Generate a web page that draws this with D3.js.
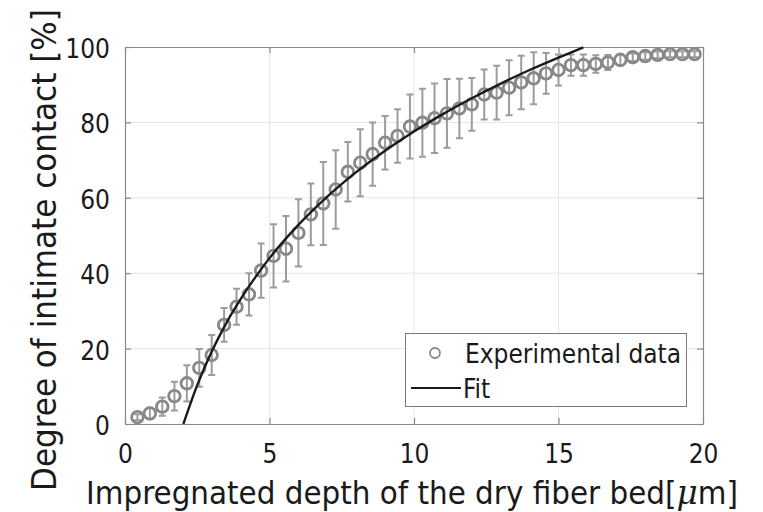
<!DOCTYPE html>
<html>
<head>
<meta charset="utf-8">
<script src="https://cdn.jsdelivr.net/npm/d3@7"></script>
<style>
  html, body { margin: 0; padding: 0; background: #fff; }
  svg { display: block; }
  text { font-family: "DejaVu Sans Condensed", "DejaVu Sans", sans-serif; fill: #1a1a1a; }
</style>
</head>
<body>
<svg id="chart" width="763" height="512"></svg>
<script>
// ---- data ----
const depth = [0.43, 0.86, 1.29, 1.71, 2.14, 2.57, 3.00, 3.43, 3.86, 4.29,
               4.71, 5.14, 5.57, 6.00, 6.43, 6.86, 7.29, 7.71, 8.14, 8.57,
               9.00, 9.43, 9.86, 10.29, 10.71, 11.14, 11.57, 12.00, 12.43, 12.86,
               13.29, 13.71, 14.14, 14.57, 15.00, 15.43, 15.86, 16.29, 16.71, 17.14,
               17.57, 18.00, 18.43, 18.86, 19.29, 19.71];
const contact = [1.8, 2.8, 4.6, 7.4, 10.8, 14.9, 18.3, 26.3, 31.1, 34.4,
                 40.7, 44.6, 46.5, 50.7, 55.6, 58.5, 62.2, 66.9, 69.3, 71.6,
                 74.6, 76.4, 78.9, 79.9, 81.1, 82.4, 83.7, 84.8, 87.4, 87.9,
                 89.2, 90.6, 91.7, 93.0, 93.9, 95.2, 95.2, 95.5, 95.9, 96.6,
                 97.3, 97.6, 97.9, 98.1, 98.1, 98.1];
const contactErr = [0.8, 1.5, 2.4, 3.8, 4.8, 5.0, 5.3, 4.5, 4.8, 5.6,
                    7.2, 8.4, 8.7, 8.9, 8.2, 11.0, 10.4, 7.9, 8.9, 8.4,
                    7.1, 7.1, 8.5, 9.0, 9.2, 9.1, 7.9, 7.0, 6.6, 7.1,
                    7.3, 7.1, 6.9, 5.4, 4.1, 2.8, 2.8, 2.3, 2.0, 1.5,
                    1.0, 1.0, 0.9, 0.8, 0.8, 0.8];
const fitX = [2.02, 2.5, 3, 3.5, 4, 5, 6, 7, 8, 9, 10, 11, 12, 13, 14, 15, 15.86];
const fitY = [0, 10.3, 19.2, 26.7, 33.1, 44.0, 52.8, 60.3, 66.8, 72.5, 77.6, 82.2, 86.4, 90.3, 93.9, 97.2, 99.9];
const xTicks = [0, 5, 10, 15, 20];
const yTicks = [0, 20, 40, 60, 80, 100];
const legendLabels = ["Experimental data", "Fit"];
const xLabel = "Impregnated depth of the dry fiber bed[";
const xLabelUnit = "\u03BC";
const xLabelEnd = "m]";
const yLabel = "Degree of intimate contact [%]";

// ---- layout ----
const svg = d3.select("#chart");
const L = 125, R = 703, T = 47, B = 424;
const x = d3.scaleLinear().domain([0, 20]).range([L, R]);
const y = d3.scaleLinear().domain([0, 100]).range([B, T]);

const axisCol = "#8a8a8a", gridCol = "#e5e5e5", dataCol = "#888888", errCol = "#9c9c9c";

// grid
const grid = svg.append("g");
grid.selectAll("line.gx").data(xTicks.slice(1, -1)).join("line")
  .attr("x1", d => x(d)).attr("x2", d => x(d)).attr("y1", T).attr("y2", B)
  .attr("stroke", gridCol).attr("stroke-width", 1);
grid.selectAll("line.gy").data(yTicks.slice(1, -1)).join("line")
  .attr("y1", d => y(d)).attr("y2", d => y(d)).attr("x1", L).attr("x2", R)
  .attr("stroke", gridCol).attr("stroke-width", 1);

// axes (inward ticks, box)
const tickLen = 6;
const xAxis = svg.append("g").attr("transform", `translate(0,${B})`)
  .call(d3.axisBottom(x).tickValues(xTicks).tickSizeInner(-tickLen).tickSizeOuter(0).tickPadding(21));
const yAxis = svg.append("g").attr("transform", `translate(${L},0)`)
  .call(d3.axisLeft(y).tickValues(yTicks).tickSizeInner(-tickLen).tickSizeOuter(0).tickPadding(15));
const xTop = svg.append("g").attr("transform", `translate(0,${T})`)
  .call(d3.axisTop(x).tickValues(xTicks).tickSizeInner(-tickLen).tickSizeOuter(0).tickFormat(""));
const yRight = svg.append("g").attr("transform", `translate(${R},0)`)
  .call(d3.axisRight(y).tickValues(yTicks).tickSizeInner(-tickLen).tickSizeOuter(0).tickFormat(""));
[xAxis, yAxis, xTop, yRight].forEach(g => {
  g.selectAll("path.domain").attr("stroke", axisCol).attr("stroke-width", 1.2);
  g.selectAll(".tick line").attr("stroke", axisCol).attr("stroke-width", 1.2);
  g.selectAll(".tick text").attr("font-size", 26).attr("fill", "#1a1a1a")
    .attr("font-family", "'DejaVu Sans Condensed', 'DejaVu Sans', sans-serif");
});
yAxis.selectAll(".tick text").attr("dy", "0.4em");

// data: error bars
const pts = depth.map((d, i) => ({ x: d, y: contact[i], e: contactErr[i] }));
const eb = svg.append("g").attr("stroke", errCol).attr("stroke-width", 2).attr("fill", "none");
const cap = 3.5;
eb.selectAll("path").data(pts).join("path")
  .attr("d", d => {
    const cx = x(d.x), y0 = y(Math.min(100, d.y + d.e)), y1 = y(d.y - d.e);
    return `M${cx},${y0}V${y1}M${cx - cap},${y0}H${cx + cap}M${cx - cap},${y1}H${cx + cap}`;
  });

// markers
svg.append("g").selectAll("circle").data(pts).join("circle")
  .attr("cx", d => x(d.x)).attr("cy", d => y(d.y)).attr("r", 5.8)
  .attr("fill", "none").attr("stroke", dataCol).attr("stroke-width", 2.8);

// fit
const fitPts = fitX.map((d, i) => [d, fitY[i]]);
svg.append("path").datum(fitPts)
  .attr("d", d3.line().x(d => x(d[0])).y(d => y(d[1])).curve(d3.curveMonotoneX))
  .attr("fill", "none").attr("stroke", "#1a1a1a").attr("stroke-width", 2.4);

// legend
const lg = svg.append("g");
lg.append("rect").attr("x", 405.5).attr("y", 333.5).attr("width", 281).attr("height", 73)
  .attr("fill", "#fff").attr("stroke", "#7a7a7a").attr("stroke-width", 1);
lg.append("circle").attr("cx", 435).attr("cy", 353).attr("r", 5)
  .attr("fill", "none").attr("stroke", dataCol).attr("stroke-width", 1.8);
lg.append("text").attr("x", 465).attr("y", 363).attr("font-size", 26).text(legendLabels[0]);
lg.append("line").attr("x1", 411).attr("x2", 461).attr("y1", 388).attr("y2", 388)
  .attr("stroke", "#1a1a1a").attr("stroke-width", 2);
lg.append("text").attr("x", 463).attr("y", 398).attr("font-size", 26).text(legendLabels[1]);

// axis labels (sized to match reference extents)
function fitSize(sel, target) {
  sel.attr("font-size", 100);
  const w = sel.node().getComputedTextLength();
  sel.attr("font-size", 100 * target / w);
}
const xl = svg.append("text").attr("x", 412).attr("y", 504).attr("text-anchor", "middle");
xl.append("tspan").text(xLabel);
xl.append("tspan").attr("font-style", "italic").attr("font-family", "'DejaVu Serif', serif").text(xLabelUnit);
xl.append("tspan").text(xLabelEnd);
fitSize(xl, 652);

const yl = svg.append("text").attr("transform", `translate(56,250) rotate(-90)`)
  .attr("text-anchor", "middle").text(yLabel);
fitSize(yl, 482);
</script>
</body>
</html>
